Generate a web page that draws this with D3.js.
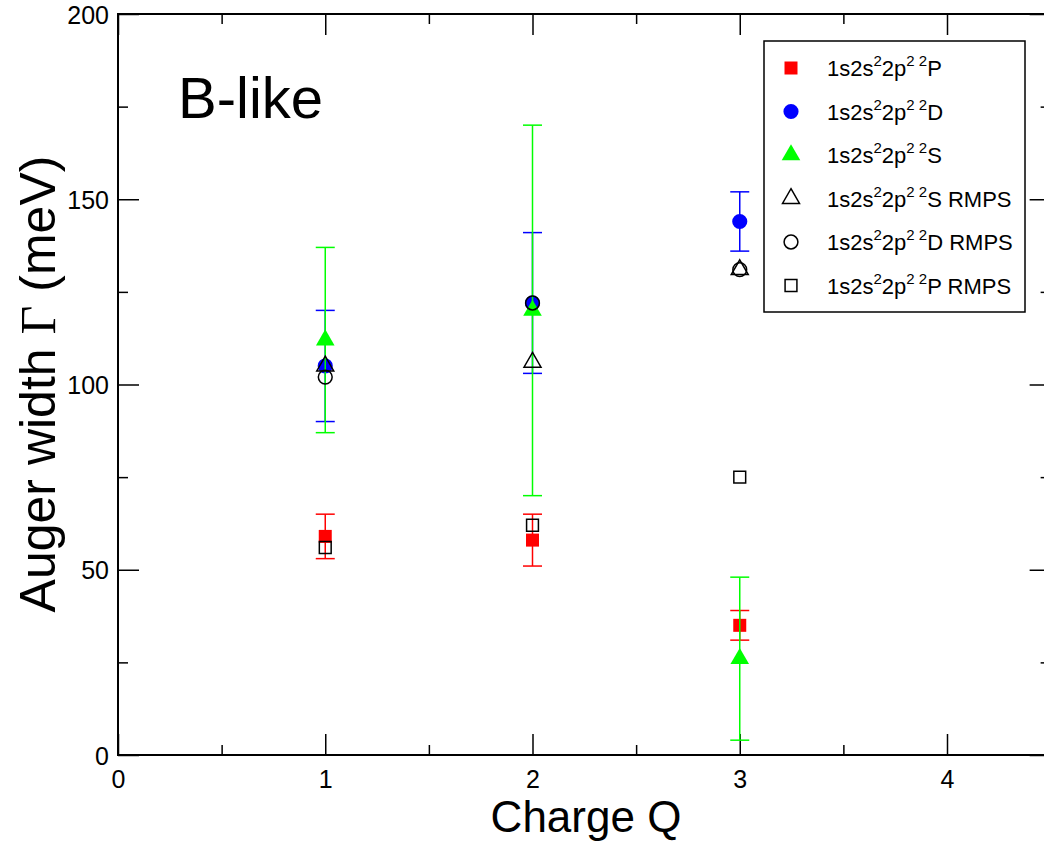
<!DOCTYPE html>
<html>
<head>
<meta charset="utf-8">
<script src="https://cdn.jsdelivr.net/npm/d3@7"></script>
<style>
  body { margin: 0; background: white; }
  svg { display: block; font-family: "Liberation Sans", Arial, sans-serif; }
</style>
</head>
<body>
<div id="chart"></div>
<script>
// charge states
const charges = [1, 2, 3]

// experiment (filled markers) + symmetric error half widths
const pVals = [59, 58, 35]
const pErr = [6, 7, 4]
const dVals = [105, 122, 144]
const dErr = [15, 19, 8]
const sVals = [112, 120, 26]
const sErr = [25, 50, 22]

// RMPS theory (open markers)
const sRmps = [105, 106, 131]
const dRmps = [102, 122, 131]
const pRmps = [56, 62, 75]

const xTicks = [0, 1, 2, 3, 4]
const yTicks = [0, 50, 100, 150, 200]

const width = 1044, height = 852
const plotLeft = 118, plotTop = 14, plotBottom = 755

const svg = d3.select("#chart").append("svg")
    .attr("width", width)
    .attr("height", height)

const x = d3.scaleLinear().domain([0, 4.5]).range([plotLeft, plotLeft + 4.5 * 207.25])
const y = d3.scaleLinear().domain([0, 200]).range([plotBottom, plotTop])
const plotRight = x(4.5)

const minorX = d3.range(0.5, 4.5, 1)
const minorY = d3.range(25, 200, 50)

// axes: ticks point inward
const axisStyle = (g) => {
    g.select(".domain").remove()
    g.selectAll("line").attr("stroke", "black").attr("stroke-width", 1.5)
}

svg.append("g").attr("transform", `translate(0,${plotBottom})`)
    .call(d3.axisBottom(x).tickValues(xTicks).tickSize(-21).tickPadding(9).tickFormat(d3.format("d")))
    .call(axisStyle)
    .selectAll("text").attr("font-size", 25).attr("dy", "0.95em").attr("font-family", "Liberation Sans, Arial, sans-serif")
svg.append("g").attr("transform", `translate(0,${plotBottom})`)
    .call(d3.axisBottom(x).tickValues(minorX).tickSize(-10).tickFormat(""))
    .call(axisStyle)

svg.append("g").attr("transform", `translate(0,${plotTop})`)
    .call(d3.axisTop(x).tickValues(xTicks).tickSize(-21).tickFormat(""))
    .call(axisStyle)
svg.append("g").attr("transform", `translate(0,${plotTop})`)
    .call(d3.axisTop(x).tickValues(minorX).tickSize(-10).tickFormat(""))
    .call(axisStyle)

svg.append("g").attr("transform", `translate(${plotLeft},0)`)
    .call(d3.axisLeft(y).tickValues(yTicks).tickSize(-21).tickPadding(9))
    .call(axisStyle)
    .selectAll("text").attr("font-size", 25).attr("dy", "0.36em").attr("font-family", "Liberation Sans, Arial, sans-serif")
svg.append("g").attr("transform", `translate(${plotLeft},0)`)
    .call(d3.axisLeft(y).tickValues(minorY).tickSize(-10).tickFormat(""))
    .call(axisStyle)

svg.append("g").attr("transform", `translate(${plotRight},0)`)
    .call(d3.axisRight(y).tickValues(yTicks).tickSize(-21).tickFormat(""))
    .call(axisStyle)
svg.append("g").attr("transform", `translate(${plotRight},0)`)
    .call(d3.axisRight(y).tickValues(minorY).tickSize(-10).tickFormat(""))
    .call(axisStyle)

// frame
svg.append("rect")
    .attr("x", plotLeft).attr("y", plotTop)
    .attr("width", plotRight - plotLeft).attr("height", plotBottom - plotTop)
    .attr("fill", "none").attr("stroke", "black").attr("stroke-width", 2)

// error bars
const capHalf = 9.5
const drawErrors = (vals, errs, color) => {
    const g = svg.append("g").attr("stroke", color).attr("stroke-width", 1.5)
    charges.forEach((q, i) => {
        const lo = y(vals[i] - errs[i]), hi = y(vals[i] + errs[i])
        g.append("line").attr("x1", x(q)).attr("x2", x(q)).attr("y1", lo).attr("y2", hi)
        g.append("line").attr("x1", x(q) - capHalf).attr("x2", x(q) + capHalf).attr("y1", lo).attr("y2", lo)
        g.append("line").attr("x1", x(q) - capHalf).attr("x2", x(q) + capHalf).attr("y1", hi).attr("y2", hi)
    })
}

const symSquare = d3.symbol().type(d3.symbolSquare)
const symCircle = d3.symbol().type(d3.symbolCircle)
const symTri = d3.symbol().type(d3.symbolTriangle)

const drawMarkers = (vals, sym, size, fill, stroke) => {
    svg.append("g").selectAll("path")
        .data(vals)
        .join("path")
        .attr("transform", (d, i) => `translate(${x(charges[i])},${y(d)})`)
        .attr("d", sym.size(size)())
        .attr("fill", fill)
        .attr("stroke", stroke)
        .attr("stroke-width", 1.5)
}

drawErrors(pVals, pErr, "#ff0000")
drawMarkers(pVals, symSquare, 169, "#ff0000", "none")
drawErrors(dVals, dErr, "#0000ff")
drawMarkers(dVals, symCircle, 180, "#0000ff", "none")
drawErrors(sVals, sErr, "#00ff00")
drawMarkers(sVals, symTri, 150, "#00ff00", "none")

drawMarkers(sRmps, symTri, 125, "none", "black")
drawMarkers(dRmps, symCircle, 150, "none", "black")
drawMarkers(pRmps, symSquare, 140, "none", "black")

// legend
const legendItems = [
    { term: "P", extra: "", sym: symSquare, size: 169, fill: "#ff0000", stroke: "none" },
    { term: "D", extra: "", sym: symCircle, size: 180, fill: "#0000ff", stroke: "none" },
    { term: "S", extra: "", sym: symTri, size: 150, fill: "#00ff00", stroke: "none" },
    { term: "S", extra: " RMPS", sym: symTri, size: 125, fill: "none", stroke: "black" },
    { term: "D", extra: " RMPS", sym: symCircle, size: 150, fill: "none", stroke: "black" },
    { term: "P", extra: " RMPS", sym: symSquare, size: 140, fill: "none", stroke: "black" }
]

svg.append("rect")
    .attr("x", 764).attr("y", 41)
    .attr("width", 261).attr("height", 271)
    .attr("fill", "white").attr("stroke", "black").attr("stroke-width", 1.5)

const leg = svg.append("g")
legendItems.forEach((it, i) => {
    const cy = 68 + i * 43.5
    leg.append("path")
        .attr("transform", `translate(791,${cy})`)
        .attr("d", it.sym.size(it.size)())
        .attr("fill", it.fill).attr("stroke", it.stroke).attr("stroke-width", 1.5)
    const t = leg.append("text").attr("x", 827).attr("y", cy + 8).attr("font-size", 22)
    t.append("tspan").text("1s2s")
    t.append("tspan").attr("font-size", 15).attr("dy", -10).text("2")
    t.append("tspan").attr("dy", 10).text("2p")
    t.append("tspan").attr("font-size", 15).attr("dy", -10).text("2 2")
    t.append("tspan").attr("dy", 10).text(it.term + it.extra)
})

// labels
svg.append("text")
    .attr("x", 178).attr("y", 118)
    .attr("font-size", 58)
    .text("B-like")

svg.append("text")
    .attr("x", 586).attr("y", 832)
    .attr("text-anchor", "middle")
    .attr("font-size", 44)
    .text("Charge Q")

const yt = svg.append("text")
    .attr("transform", "translate(55,384) rotate(-90)")
    .attr("text-anchor", "middle")
    .attr("font-size", 50)
yt.append("tspan").text("Auger width ")
yt.append("tspan").attr("font-family", "Liberation Serif, Times New Roman, serif").text("Γ")
yt.append("tspan").text(" (meV)")
</script>
</body>
</html>
